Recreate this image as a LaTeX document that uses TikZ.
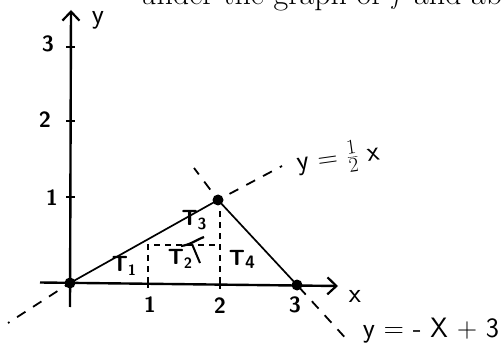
\documentclass[tikz,border=0pt]{standalone}
\usetikzlibrary{arrows.meta}
\begin{document}
\begin{tikzpicture}[x=1pt,y=-1pt,
  ax/.style={line width=2.4pt},
  ln/.style={line width=1.7pt},
  dsh/.style={line width=1.8pt, dash pattern=on 10pt off 9pt},
  dshs/.style={line width=1.4pt, dash pattern=on 6pt off 5pt},
  dot/.style={circle,fill=black,inner sep=0pt,minimum size=11pt},
  lab/.style={font=\sffamily\bfseries\fontsize{22}{22}\selectfont, inner sep=0pt},
  big/.style={font=\sffamily\fontsize{28}{28}\selectfont, inner sep=0pt},
  tck/.style={line width=2pt},
  barb/.style={-{Straight Barb[length=9pt,width=17pt,line width=2.2pt]}}]
\useasboundingbox (0,0) rectangle (503,347);
\node[anchor=base west, font=\fontsize{32}{33}\selectfont, inner sep=0pt] (top) at (140,5) {under the graph of $f$ and ab};
% axes
\coordinate (ybot) at (70,307);
\coordinate (ytop) at (71,10);
\coordinate (xl) at (40,282.5);
\coordinate (xr) at (338,286);
\draw[ax,barb] (ybot) -- (ytop);
\draw[ax,barb] (xl) -- (xr);
\node[big] (ylab) at (98,20) {y};
\node[big] (xlab) at (355,296) {x};
% points
\node[dot] (O) at (70,283) {};
\node[dot] (A) at (218,200) {};
\node[dot] (B) at (297,285) {};
% ticks
\draw[tck] (66,47) -- (75,47);
\draw[tck] (66,121) -- (75,121);
\draw[tck] (66,197) -- (75,197);
\draw[tck] (148,280) -- (148,288);
\draw[tck] (220,281) -- (220,289);
\node[lab] (t3) at (48,44) {3};
\node[lab] (t2) at (45,120) {2};
\node[lab] (t1) at (52,198) {1};
\node[lab] (u1) at (150,305) {1};
\node[lab] (u2) at (220,306) {2};
\node[lab] (u3) at (295,305) {3};
% graph lines
\draw[ln] (O.center) -- (A.center) -- (B.center);
\coordinate (L1) at (8,323);
\coordinate (L2) at (282,166);
\coordinate (L3) at (194,168);
\coordinate (L4) at (350,343);
\draw[dsh, dash phase=4pt] (O.center) -- (L1);
\draw[dsh, dash phase=6pt] (A.center) -- (L2);
\draw[dsh, dash phase=6pt] (A.center) -- (L3);
\draw[dsh, dash phase=16pt] (B.center) -- (L4);
% dashed partition
\coordinate (p1) at (148,283);
\coordinate (q1) at (148,245);
\coordinate (q2) at (220,245);
\coordinate (p2) at (220,283);
\coordinate (r2) at (220,208);
\draw[dshs] (p1) -- (q1) -- (q2);
\draw[dshs] (p2) -- (r2);
% region labels
\node[lab] (T1) at (124,266) {T{\fontsize{15}{15}\selectfont\raisebox{-4pt}{1}}};
\node[lab] (T2) at (180,259) {T{\fontsize{15}{15}\selectfont\raisebox{-4pt}{2}}};
\node[lab] (T3) at (194,220) {T{\fontsize{16}{16}\selectfont\raisebox{-4pt}{3}}};
\node[lab] (T4) at (242,259) {T{\fontsize{18}{18}\selectfont\raisebox{-3pt}{4}}};
\draw[line width=2.2pt] (181,246) .. controls (190,245) and (196,240) .. (204,237);
\draw[line width=2pt] (192,244) -- (200,263);
% line labels
\node[inner sep=0pt, rotate=8, font=\sffamily\fontsize{28}{28}\selectfont] (l1) at (338,158) {y = $\frac{1}{2}$ x};
\node[inner sep=0pt, font=\sffamily\fontsize{28}{28}\selectfont] (l2) at (431,331) {y = - X + 3};
\end{tikzpicture}
\end{document}
